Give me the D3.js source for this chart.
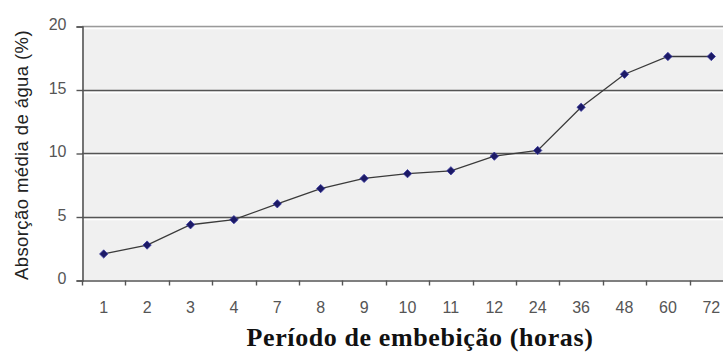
<!DOCTYPE html>
<html>
<head>
<meta charset="utf-8">
<script src="https://cdn.jsdelivr.net/npm/d3@7"></script>
<style>
  body { margin: 0; background: #fff; }
  svg { display: block; }
</style>
</head>
<body>
<svg id="chart" width="723" height="354"></svg>
<script>
// period of imbibition (hours) and mean water uptake (%)
var periods = ["1", "2", "3", "4", "7", "8", "9", "10", "11", "12", "24", "36", "48", "60", "72"]
var absorption = [2.05, 2.75, 4.35, 4.75, 6.0, 7.2, 8.0, 8.37, 8.6, 9.75, 10.2, 13.6, 16.2, 17.6, 17.6]
var yTicks = [0, 5, 10, 15, 20]

var svg = d3.select("#chart")

// plot box (window.top is taken, so prefix these)
var plotLeft = 82, plotTop = 26, plotBottom = 280, plotRight = 733

var x = d3.scaleBand()
    .domain(periods)
    .range([plotLeft, plotRight])

var y = d3.scaleLinear()
    .domain([0, 20])
    .range([plotBottom, plotTop])

// plot background
svg.append("rect")
    .attr("x", plotLeft)
    .attr("y", plotTop)
    .attr("width", plotRight - plotLeft)
    .attr("height", plotBottom - plotTop)
    .attr("fill", "#f0f0f0")

// gridlines with a light line under each
svg.append("g")
    .selectAll("line")
    .data(yTicks.slice(1))
    .join("line")
    .attr("x1", plotLeft).attr("x2", plotRight)
    .attr("y1", d => Math.round(y(d)) + 2.5)
    .attr("y2", d => Math.round(y(d)) + 2.5)
    .attr("stroke", "#ffffff")
    .attr("stroke-width", 1.5)

svg.append("g")
    .selectAll("line")
    .data(yTicks.slice(1))
    .join("line")
    .attr("x1", plotLeft).attr("x2", plotRight)
    .attr("y1", d => Math.round(y(d)) + 0.5)
    .attr("y2", d => Math.round(y(d)) + 0.5)
    .attr("stroke", d => d == 20 ? "#9a9a9a" : "#555555")
    .attr("stroke-width", 1.6)

// y axis
var yAxis = svg.append("g")
    .attr("transform", "translate(" + (plotLeft + 0.5) + ",0.5)")
    .call(d3.axisLeft(y).tickValues(yTicks).tickSize(6).tickPadding(10))

yAxis.select(".domain").attr("stroke", "#555").attr("stroke-width", 1.6)
yAxis.selectAll(".tick line").attr("stroke", "#555").attr("stroke-width", 1.4)
yAxis.selectAll("text")
    .attr("fill", "#555")
    .attr("dy", "0.2em")
    .attr("font-family", "Arial, 'Liberation Sans', sans-serif")
    .attr("font-size", 16)

// x axis, ticks between categories
var xAxis = svg.append("g")
    .attr("transform", "translate(0," + (plotBottom + 0.5) + ")")
    .call(d3.axisBottom(x).tickSize(0).tickPadding(21))

xAxis.select(".domain").attr("stroke", "#555").attr("stroke-width", 1.6)
xAxis.selectAll("text")
    .attr("fill", "#555")
    .attr("font-family", "Arial, 'Liberation Sans', sans-serif")
    .attr("font-size", 16)

xAxis.selectAll("line.sep")
    .data(periods)
    .join("line")
    .attr("class", "sep")
    .attr("x1", d => Math.round(x(d)) + 0.5)
    .attr("x2", d => Math.round(x(d)) + 0.5)
    .attr("y1", 0).attr("y2", 5)
    .attr("stroke", "#555")
    .attr("stroke-width", 1.4)

// series line
var line = d3.line()
    .x((d, i) => x(periods[i]) + x.bandwidth() / 2)
    .y(d => y(d))

svg.append("path")
    .datum(absorption)
    .attr("d", line)
    .attr("fill", "none")
    .attr("stroke", "#3a3a3a")
    .attr("stroke-width", 1.3)

// diamond markers
svg.append("g")
    .selectAll("path")
    .data(absorption)
    .join("path")
    .attr("transform", (d, i) => "translate(" + (x(periods[i]) + x.bandwidth() / 2) + "," + y(d) + ")")
    .attr("d", d3.symbol().type(d3.symbolDiamond2).size(44))
    .attr("fill", "#1c1a66")
    .attr("stroke", "#3a3aa0")
    .attr("stroke-width", 0.8)

// titles
svg.append("text")
    .attr("transform", "translate(28," + ((plotTop + plotBottom) / 2 + 2) + ") rotate(-90)")
    .attr("text-anchor", "middle")
    .attr("font-family", "Arial, 'Liberation Sans', sans-serif")
    .attr("font-size", 18.5)
    .attr("letter-spacing", 0.4)
    .attr("fill", "#222")
    .text("Absorção média de água (%)")

svg.append("text")
    .attr("x", 420)
    .attr("y", 346)
    .attr("text-anchor", "middle")
    .attr("font-family", "'Liberation Serif', 'Times New Roman', serif")
    .attr("font-weight", "bold")
    .attr("font-size", 26)
    .attr("letter-spacing", 0.6)
    .attr("fill", "#111")
    .text("Período de embebição (horas)")
</script>
</body>
</html>
